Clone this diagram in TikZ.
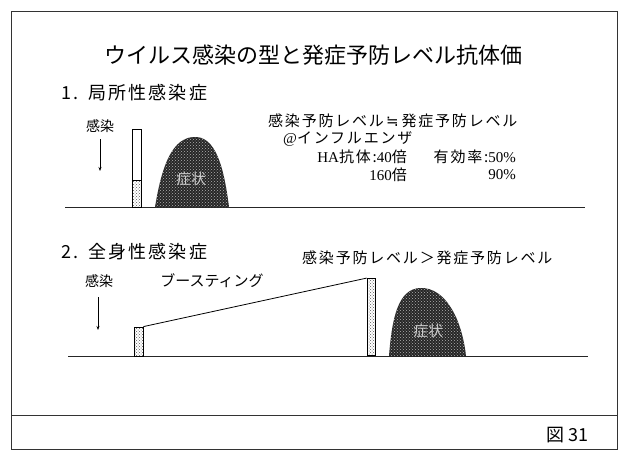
\documentclass[tikz,border=0pt]{standalone}
\usepackage{fontspec}
\setmainfont{Noto Sans CJK JP}
\newfontfamily\jp{Noto Sans CJK JP}
\newfontfamily\jpsp[LetterSpace=12]{Noto Sans CJK JP}
\newfontfamily\lat{Liberation Serif}
\newfontfamily\mathsym{DejaVu Sans}
\usetikzlibrary{arrows.meta,patterns}

\begin{document}
\begin{tikzpicture}[x=1pt,y=-1pt,
  txt/.style={inner sep=0pt, text=black},
  titletext/.style={txt, font=\jp\fontsize{22}{24}\selectfont},
  head/.style={txt, anchor=west, font=\jpsp\fontsize{18}{20}\selectfont},
  note/.style={txt, font=\jpsp\fontsize{15}{18}\selectfont},
  small/.style={txt, font=\jp\fontsize{14}{16}\selectfont},
  axis/.style={line width=0.9pt, black!85},
  frameline/.style={line width=0.8pt, black!80},
  bar/.style={draw=black, line width=0.8pt, inner sep=0pt},
  grainy/.style={pattern=crosshatch dots, pattern color=black!65},
  mound/.style={fill=black!85},
  speckle/.style={pattern=crosshatch dots, pattern color=white!70!black},
  moundtext/.style={txt, text=white!80!black, font=\jp\fontsize{15}{16}\selectfont},
  infect/.style={line width=0.8pt, -{Stealth[length=4pt,width=3pt]}},
]
% page and frame
\useasboundingbox (0,0) rectangle (621,453);
\fill[white] (0,0) rectangle (621,453);
\draw[frameline] (11,11) rectangle (617,449);
\coordinate (sepw) at (11,415);
\coordinate (sepe) at (617,415);
\draw[frameline] (sepw) -- (sepe);
\node[txt, font=\jp\fontsize{18}{20}\selectfont] (fig) at (567,435) {図 31};

% title
\node[titletext] (title) at (313,55) {ウイルス感染の型と発症予防レベル抗体価};

% ---- 1. local infection ----
\node[head] (h1) at (61,93) {1.\hspace{10pt}局所性感染症};
\coordinate (b1w) at (65,207);
\coordinate (b1e) at (585,207);
\draw[axis] (b1w) -- (b1e);

\node[small] (inf1) at (100,126) {感染};
\coordinate (inf1s) at (100,139);
\coordinate (inf1e) at (100,171);
\draw[infect] (inf1s) -- (inf1e);

% antibody bar, lower part textured
\path[grainy] (132,180) rectangle (141,207);
\node[bar, minimum width=9pt, minimum height=78pt] (bar1) at (136.5,168) {};
\coordinate (lvl1) at (0,180);
\draw[line width=0.6pt] (bar1.west |- lvl1) -- (bar1.east |- lvl1);

% symptom mound
\fill[mound] (155,207) .. controls (160,178) and (168,139) .. (193,137)
  .. controls (216,135) and (224,168) .. (229,207) -- cycle;
\path[speckle] (155,207) .. controls (160,178) and (168,139) .. (193,137)
  .. controls (216,135) and (224,168) .. (229,207) -- cycle;
\node[moundtext] (sym1) at (191,179) {症状};

% notes
\node[note, anchor=west] (n1) at (268,121) {感染予防レベル\hspace{2pt}{\mathsym ≒}\hspace{3pt}発症予防レベル};
\node[note, anchor=west] (n2) at (283,139) {{\lat @}インフルエンザ};
\node[note, anchor=east] (n3) at (407,157) {{\lat HA}抗体:{\lat 40}倍};
\node[note, anchor=east] (n4) at (516,157) {有効率:{\lat 50\%}};
\node[note, anchor=east] (n5) at (407,175) {{\lat 160}倍};
\node[note, anchor=east] (n6) at (516,175) {{\lat 90\%}};

% ---- 2. systemic infection ----
\node[head] (h2) at (61,252) {2.\hspace{10pt}全身性感染症};
\node[note, anchor=west] (n7) at (302,258) {感染予防レベル＞発症予防レベル};
\coordinate (b2w) at (68,356);
\coordinate (b2e) at (588,356);
\draw[axis] (b2w) -- (b2e);

\node[small] (inf2) at (99,281) {感染};
\coordinate (inf2s) at (98,297);
\coordinate (inf2e) at (98,330);
\draw[infect] (inf2s) -- (inf2e);

\node[txt, font=\jp\fontsize{15}{16}\selectfont] (boost) at (212,281) {ブースティング};

\node[bar, grainy, minimum width=9pt, minimum height=29pt] (sbar) at (138.5,341.5) {};
\node[bar, grainy, minimum width=8pt, minimum height=77pt] (tbar) at (371,317) {};
\draw[line width=0.8pt] (sbar.north east) -- (tbar.north west);

\fill[mound] (389,356) .. controls (392,318) and (398,289) .. (420,288)
  .. controls (446,287) and (462,320) .. (466,356) -- cycle;
\path[speckle] (389,356) .. controls (392,318) and (398,289) .. (420,288)
  .. controls (446,287) and (462,320) .. (466,356) -- cycle;
\node[moundtext] (sym2) at (428,331) {症状};
\end{tikzpicture}
\end{document}
